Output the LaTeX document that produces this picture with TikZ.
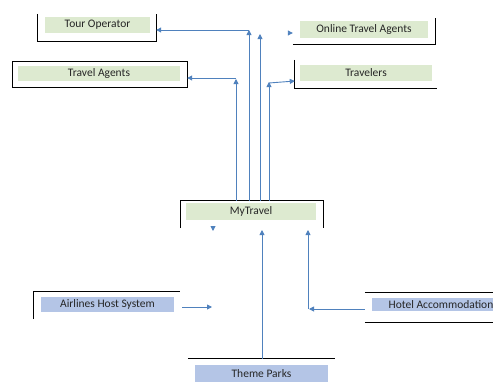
\documentclass[tikz,border=0pt]{standalone}
\usepackage{fontspec}
\setmainfont{Carlito}
\usetikzlibrary{arrows.meta}
\definecolor{boxgreen}{RGB}{221,234,208}
\definecolor{boxblue}{RGB}{180,197,230}
\definecolor{arrblue}{RGB}{79,129,189}
\tikzset{
  outer/.style={draw=none,inner sep=0pt,minimum width=#1},
  gfill/.style={fill=boxgreen,inner sep=0pt,text=black!85,font=\fontsize{11.5}{13}\selectfont},
  bfill/.style={fill=boxblue,inner sep=0pt,text=black!85,font=\fontsize{11.5}{13}\selectfont},
  border/.style={draw=black,line width=1.1pt},
  arr/.style={draw=arrblue,line width=0.9pt,-{Triangle[length=5pt,width=5pt]}},
  conn/.style={draw=arrblue,line width=0.9pt}
}
\begin{document}
\begin{tikzpicture}[x=1pt,y=-1pt]
\useasboundingbox (0,0) rectangle (493,381);
\clip (0,0) rectangle (493,381);
% outer frames (invisible, for connector anchoring)
\node[outer=118pt,minimum height=27pt] (tourO) at (97,27.5) {};
\node[outer=174pt,minimum height=25pt] (agentsO) at (100,74.5) {};
\node[outer=142pt,minimum height=26pt] (onlineO) at (364,31) {};
\node[outer=142pt,minimum height=28pt] (travO) at (366,74) {};
\node[outer=142pt,minimum height=27pt] (myO) at (252,214.5) {};
\node[outer=146pt,minimum height=27pt] (airO) at (107,305.5) {};
\node[outer=150pt,minimum height=29pt] (hotelO) at (440,307.5) {};
\node[outer=147pt,minimum height=30pt] (themeO) at (261.5,374) {};
% fills with text
\node[gfill,minimum width=105pt,minimum height=16pt] (tour) at (97.5,25) {Tour Operator};
\node[gfill,minimum width=162pt,minimum height=15pt] (agents) at (99,73.5) {Travel Agents};
\node[gfill,minimum width=128pt,minimum height=17pt] (online) at (364,29.5) {Online Travel Agents};
\node[gfill,minimum width=132pt,minimum height=16pt] (trav) at (366,72.5) {Travelers};
\node[gfill,minimum width=130pt,minimum height=17pt] (my) at (251,211.5) {MyTravel};
\node[bfill,minimum width=133pt,minimum height=15pt] (air) at (107.5,304.5) {Airlines Host System};
\node[bfill,minimum width=138pt,minimum height=13pt] (hotel) at (441,304.5) {Hotel Accommodation};
\node[bfill,minimum width=133pt,minimum height=17pt] (theme) at (261.5,373.5) {Theme Parks};
% partial borders
\draw[border] (tourO.north west) -- (tourO.south west) -- (tourO.south east) -- (tourO.north east);
\draw[border] (agentsO.north west) rectangle (agentsO.south east);
\draw[border] (onlineO.south west) -- (onlineO.south east) -- (onlineO.north east);
\draw[border] (travO.north west) -- (travO.south west) -- (travO.south east);
\draw[border] (myO.south west) -- (myO.north west) -- (myO.north east) -- (myO.south east);
\draw[border] (airO.south west) -- (airO.north west) -- (airO.north east);
\draw[border] (hotelO.north west) -- (hotelO.north east);
\draw[border] (hotelO.south west) -- (hotelO.south east);
\draw[border] (themeO.north west) -- (themeO.north east);
% junction coordinates
\coordinate (j1) at (249,30);
\coordinate (j2) at (260,34);
\coordinate (j3) at (236,79);
\coordinate (j4) at (269,82);
\coordinate (j5) at (308,309);
\coordinate (j6) at (262,230);
\coordinate (j7) at (213,231);
\coordinate (j8) at (212,307);
\coordinate (j9) at (182,307);
\coordinate (j10) at (288,33);
% connectors
\draw[arr] (myO.north -| j1) -- (j1);
\draw[arr] (j1) -- (tourO.east |- j1);
\draw[arr] (myO.north -| j2) -- (j2);
\draw[arr] (myO.north -| j3) -- (j3);
\draw[arr] ([yshift=1pt]j3) -- (agentsO.east |- {(0,78)});
\draw[arr] (myO.north -| j4) -- (j4);
\draw[arr] ([yshift=-1pt]j4) -- (travO.west |- {(0,81)});
\draw[arr] (j10) -- (onlineO.west |- j10);
\draw[arr] ([yshift=2pt]j7) -- (j7);
\draw[arr] (themeO.north -| j6) -- (j6);
\draw[arr] (hotelO.west |- j5) -- ([xshift=1pt]j5);
\draw[arr] (j5) -- (j5 |- j6);
\draw[arr] (j9) -- (j8);
\end{tikzpicture}
\end{document}
